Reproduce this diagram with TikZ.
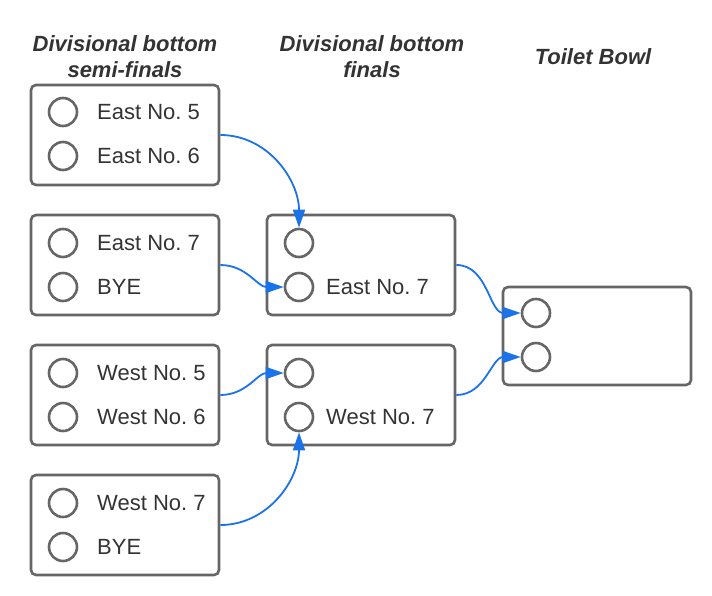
\documentclass[tikz,border=0pt]{standalone}
\usepackage{fontspec}
\setmainfont{Liberation Sans}
\usetikzlibrary{arrows.meta}
\definecolor{boxgray}{HTML}{666666}
\definecolor{txtgray}{HTML}{333333}
\definecolor{linkblue}{HTML}{1A73E8}
\tikzset{
  matchbox/.style={draw=boxgray, line width=2.6pt, rounded corners=5pt, minimum width=188pt, minimum height=100pt, inner sep=0pt},
  slot/.style={draw=boxgray, line width=2.6pt, circle, minimum size=28pt, inner sep=0pt},
  team/.style={anchor=west, inner sep=0pt, text=txtgray, font=\fontsize{22}{24}\selectfont},
  heading/.style={align=center, inner sep=0pt, text=txtgray, font=\fontsize{22}{26}\selectfont\bfseries\itshape},
  link/.style={draw=linkblue, line width=1.8pt, arrows={-Triangle[length=18pt 0 0,width=12pt 0 0,fill=linkblue]}}
}
\begin{document}
\frenchspacing
\begin{tikzpicture}[x=1pt,y=-1pt]
\useasboundingbox (0,0) rectangle (712,595);
% headings
\node[heading] (h1) at (125,57) {Divisional bottom\\semi-finals};
\node[heading] (h2) at (372,57) {Divisional bottom\\finals};
\node[heading] (h3) at (593,57) {Toilet Bowl};
% left column
\node[matchbox] (b1) at (125,135) {};
\node[matchbox] (b2) at (125,265) {};
\node[matchbox] (b3) at (125,395) {};
\node[matchbox] (b4) at (125,525) {};
% middle column
\node[matchbox] (b5) at (361,265) {};
\node[matchbox] (b6) at (361,395) {};
% right
\node[matchbox, minimum height=98pt] (b7) at (597,336) {};
% circles
\node[slot] (c1a) at (63,112) {};
\node[slot] (c1b) at (63,156) {};
\node[slot] (c2a) at (63,243) {};
\node[slot] (c2b) at (63,287) {};
\node[slot] (c3a) at (63,373) {};
\node[slot] (c3b) at (63,417) {};
\node[slot] (c4a) at (63,503) {};
\node[slot] (c4b) at (63,547) {};
\node[slot] (c5a) at (299,243) {};
\node[slot] (c5b) at (299,287) {};
\node[slot] (c6a) at (299,373) {};
\node[slot] (c6b) at (299,417) {};
\node[slot] (c7a) at (536,313) {};
\node[slot] (c7b) at (536,357) {};
% teams
\node[team] (t1a) at (97,112) {East No. 5};
\node[team] (t1b) at (97,156) {East No. 6};
\node[team] (t2a) at (97,243) {East No. 7};
\node[team] (t2b) at (97,287) {BYE};
\node[team] (t3a) at (97,373) {West No. 5};
\node[team] (t3b) at (97,417) {West No. 6};
\node[team] (t4a) at (97,503) {West No. 7};
\node[team] (t4b) at (97,547) {BYE};
\node[team] (t5b) at (326,287) {East No. 7};
\node[team] (t6b) at (326,417) {West No. 7};
% connectors
\draw[link] (b1.east) to[out=0,in=90] (c5a.north);
\draw[link] (b2.east) to[out=0,in=180] (c5b.west);
\draw[link] (b3.east) to[out=0,in=180] (c6a.west);
\draw[link] (b4.east) to[out=0,in=-90] (c6b.south);
\draw[link] (b5.east) to[out=0,in=180] (c7a.west);
\draw[link] (b6.east) to[out=0,in=180] (c7b.west);
\end{tikzpicture}
\end{document}
